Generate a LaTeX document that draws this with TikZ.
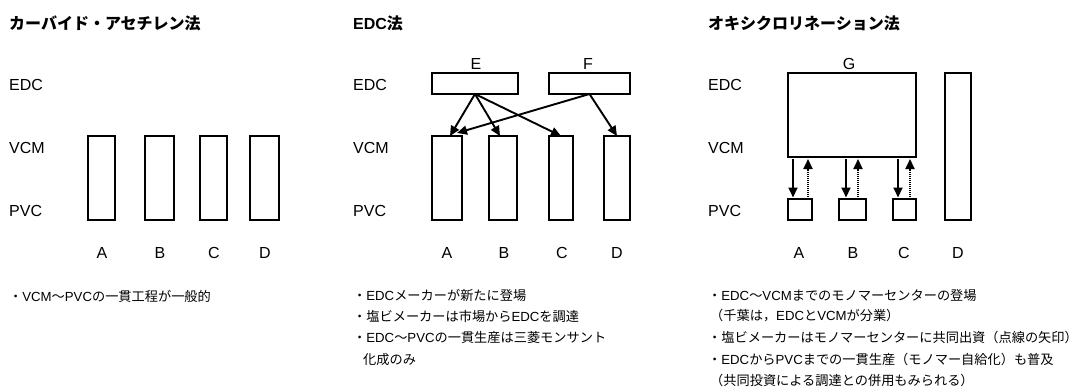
\documentclass[tikz,border=0pt]{standalone}
\usepackage{fontspec}
\setmainfont{Liberation Sans}
\newfontfamily\jp{Noto Sans CJK JP}
\newfontfamily\latf{Liberation Sans}
\newcommand\La[1]{{\latf #1}}
\usetikzlibrary{arrows.meta,calc}
\begin{document}
\begin{tikzpicture}[x=1pt,y=-1pt,
  box/.style={draw, line width=1.9pt, inner sep=0pt, outer sep=0pt},
  lvl/.style={anchor=west, font=\fontsize{16}{19}\selectfont, inner sep=0pt},
  col/.style={font=\fontsize{16}{19}\selectfont, inner sep=0pt},
  ttl/.style={anchor=west, font=\jp\bfseries\fontsize{16}{19}\selectfont, inner sep=0pt},
  note/.style={anchor=west, font=\jp\fontsize{13.2}{16}\selectfont, inner sep=0pt},
  arr/.style={line width=1.9pt, -{Triangle[length=10pt,width=9pt]}},
  darr/.style={arr, dash pattern=on 1pt off 1pt}]
\useasboundingbox (0,0) rectangle (1078,386);

% ---------- Panel 1 ----------
\node[ttl] (t1) at (9,23) {カーバイド・アセチレン法};
\node[lvl] (e1) at (9,85) {EDC};
\node[lvl] (v1) at (9,148) {VCM};
\node[lvl] (p1) at (9,211) {PVC};
\node[box, minimum width=27pt, minimum height=84pt] (a1) at (101.5,178) {};
\node[box, minimum width=29pt, minimum height=84pt] (b1) at (159.5,178) {};
\node[box, minimum width=27pt, minimum height=84pt] (c1) at (213.5,178) {};
\node[box, minimum width=29pt, minimum height=84pt] (d1) at (264.5,178) {};
\node[col] (la1) at (102,253) {A};
\node[col] (lb1) at (160,253) {B};
\node[col] (lc1) at (214,253) {C};
\node[col] (ld1) at (265,253) {D};
\node[note] (n1a) at (9,296) {・\La{VCM}〜\La{PVC}の一貫工程が一般的};

% ---------- Panel 2 ----------
\node[ttl, font=\bfseries\fontsize{16}{19}\selectfont] (t2) at (353,23) {EDC{\jp 法}};
\node[lvl] (e2) at (353,85) {EDC};
\node[lvl] (v2) at (353,148) {VCM};
\node[lvl] (p2) at (353,211) {PVC};
\node[box, minimum width=86pt, minimum height=21pt] (E) at (475,83.5) {};
\node[box, minimum width=81pt, minimum height=21pt] (F) at (589.5,83.5) {};
\node[col] (lE) at (476,64) {E};
\node[col] (lF) at (588,64) {F};
\node[box, minimum width=30pt, minimum height=84pt] (a2) at (447,178) {};
\node[box, minimum width=28pt, minimum height=84pt] (b2) at (503,178) {};
\node[box, minimum width=24pt, minimum height=84pt] (c2) at (561,178) {};
\node[box, minimum width=26pt, minimum height=84pt] (d2) at (617,178) {};
\draw[arr] (E.south) -- ($(a2.north)+(3,0)$);
\draw[arr] (E.south) -- ($(b2.north)+(-3,0)$);
\draw[arr] (E.south) -- (c2.north);
\draw[arr] (F.south) -- ($(a2.north)+(10,-3)$);
\draw[arr] (F.south) -- (d2.north);
\node[col] (la2) at (447,253) {A};
\node[col] (lb2) at (504,253) {B};
\node[col] (lc2) at (562,253) {C};
\node[col] (ld2) at (617,253) {D};
\node[note] (n2a) at (353,295) {・\La{EDC}メーカーが新たに登場};
\node[note] (n2b) at (353,316) {・塩ビメーカーは市場から\La{EDC}を調達};
\node[note] (n2c) at (353,337) {・\La{EDC}〜\La{PVC}の一貫生産は三菱モンサント};
\node[note] (n2d) at (363,360) {化成のみ};

% ---------- Panel 3 ----------
\node[ttl] (t3) at (708,23) {オキシクロリネーション法};
\node[lvl] (e3) at (708,85) {EDC};
\node[lvl] (v3) at (708,148) {VCM};
\node[lvl] (p3) at (708,211) {PVC};
\node[box, minimum width=128pt, minimum height=84pt] (G) at (852,115) {};
\node[col] (lG) at (849,64) {G};
\node[box, minimum width=26pt, minimum height=147pt] (d3) at (958,146.5) {};
\node[box, minimum width=24pt, minimum height=21pt] (a3) at (800,209.5) {};
\node[box, minimum width=27pt, minimum height=21pt] (b3) at (852.5,209.5) {};
\node[box, minimum width=23pt, minimum height=21pt] (c3) at (904.5,209.5) {};
\coordinate (a3d) at ($(a3.north west)+(5,0)$);
\coordinate (a3u) at ($(a3.north west)+(20,0)$);
\coordinate (b3d) at ($(b3.north west)+(7,0)$);
\coordinate (b3u) at ($(b3.north west)+(19,0)$);
\coordinate (c3d) at ($(c3.north west)+(5,0)$);
\coordinate (c3u) at ($(c3.north west)+(17,0)$);
\draw[arr, shorten >=1.5pt] ($(a3d |- G.south)+(0,2)$) -- (a3d);
\draw[darr, shorten >=2pt] (a3u) -- (a3u |- G.south);
\draw[arr, shorten >=1.5pt] ($(b3d |- G.south)+(0,2)$) -- (b3d);
\draw[darr, shorten >=2pt] (b3u) -- (b3u |- G.south);
\draw[arr, shorten >=1.5pt] ($(c3d |- G.south)+(0,2)$) -- (c3d);
\draw[darr, shorten >=2pt] (c3u) -- (c3u |- G.south);
\node[col] (la3) at (799,253) {A};
\node[col] (lb3) at (853,253) {B};
\node[col] (lc3) at (904,253) {C};
\node[col] (ld3) at (958,253) {D};
\node[note] (n3a) at (708,296) {・\La{EDC}〜\La{VCM}までのモノマーセンターの登場};
\node[note] (n3b) at (710,316) {（千葉は，\La{EDC}と\La{VCM}が分業）};
\node[note] (n3c) at (708,337) {・塩ビメーカーはモノマーセンターに共同出資（点線の矢印）};
\node[note] (n3d) at (708,359) {・\La{EDC}から\La{PVC}までの一貫生産（モノマー自給化）も普及};
\node[note] (n3e) at (710,380) {（共同投資による調達との併用もみられる）};
\end{tikzpicture}
\end{document}
